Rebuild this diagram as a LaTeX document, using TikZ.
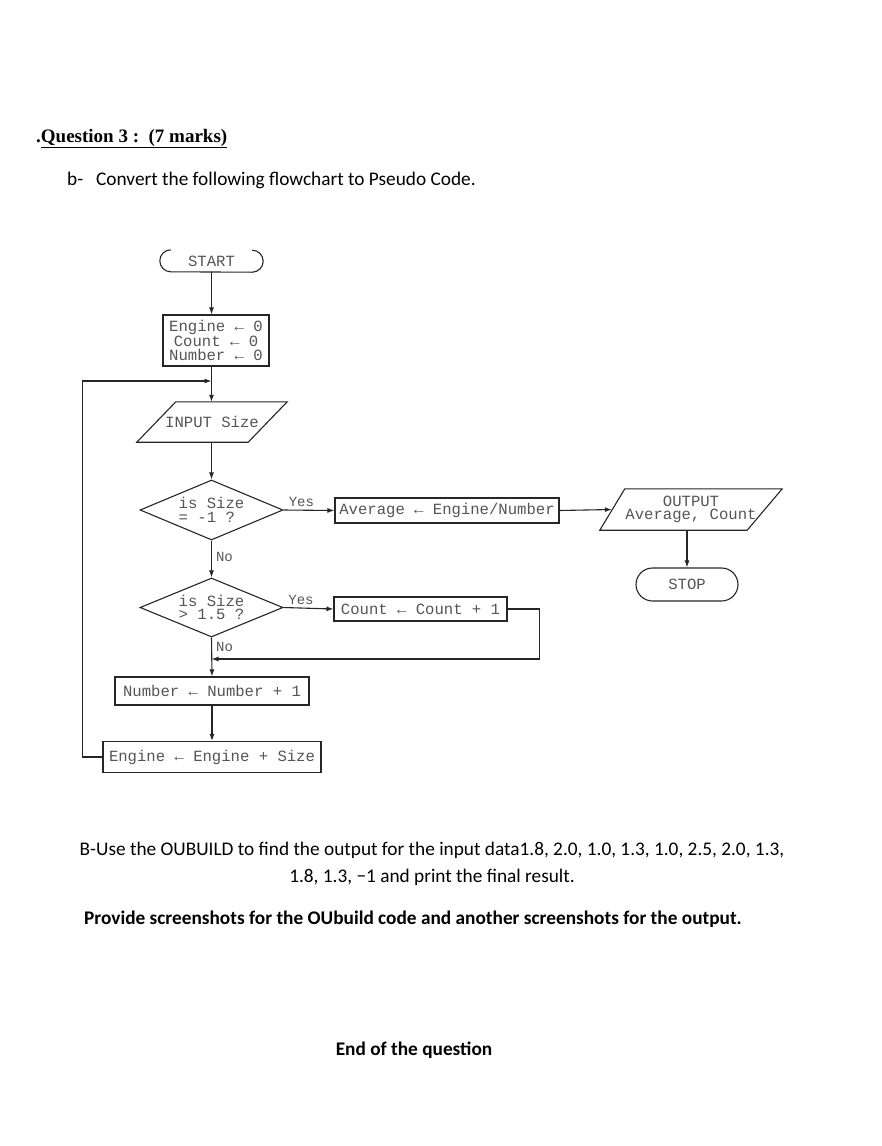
\documentclass[tikz,border=0pt]{standalone}
\usepackage{fontspec}
\setmainfont{Carlito}
\newfontfamily\timesfont{Liberation Serif}
\setmonofont{Liberation Mono}
\usetikzlibrary{shapes.geometric,shapes.misc,arrows.meta}
\definecolor{txt}{HTML}{555555}
\definecolor{ln}{HTML}{262626}
\begin{document}
\begin{tikzpicture}[x=1pt,y=-1pt,
  fc/.style={text=txt,font=\ttfamily\fontsize{15.6}{13.5}\selectfont,align=center,inner sep=0pt},
  box/.style={fc,draw=ln,line width=1.1pt},
  dia/.style={fc,draw=ln,line width=1.1pt,diamond,aspect=2.4,align=left},
  io/.style={draw=ln,line width=1.1pt},
  arr/.style={draw=ln,line width=1.1pt,-{Latex[length=7pt,width=5pt]}},
  lbl/.style={text=txt,font=\ttfamily\fontsize{14}{14}\selectfont,inner sep=1pt}]
\useasboundingbox (0,0) rectangle (881,1146);
\fill[white] (0,0) rectangle (881,1146);
\node (t1) [anchor=base west,inner sep=0pt] at (36,142) {\timesfont\bfseries\fontsize{19}{22}\selectfont .\underline{Question 3 :\ \ (7 marks)}};
\node (t2) [anchor=base west,inner sep=0pt] at (67,185) {\fontsize{19.3}{22}\selectfont b-};
\node (t3) [anchor=base west,inner sep=0pt] at (96,185) {\fontsize{19.3}{22}\selectfont Convert the following flowchart to Pseudo Code.};
\node (v0) [fc,minimum width=103pt,minimum height=22pt] at (211.5,261) {START};
\draw[ln,line width=1.1pt] ([xshift=11pt]v0.north west) arc (90:270:11pt) -- ([xshift=-11pt]v0.south east) arc (-90:90:11pt);
\node (v1) [box,minimum width=106pt,minimum height=51pt] at (216,340.5) {Engine ← 0\\Count ← 0\\Number ← 0};
\node (v2) [fc,minimum width=150pt,minimum height=40pt] at (212,422) {INPUT Size};
\draw[io] ([xshift=39pt]v2.north west) -- (v2.north east) -- ([xshift=-39pt]v2.south east) -- (v2.south west) -- cycle;
\node (v3) [dia,minimum width=143pt,minimum height=60pt] at (211.5,510) {is Size\\= -1 ?};
\node (v4) [box,minimum width=224pt,minimum height=25pt] at (447,510.5) {Average ← Engine/Number};
\node (v5) [fc,minimum width=182pt,minimum height=41pt] at (691,509.5) {OUTPUT\\Average, Count};
\draw[io] ([xshift=25pt]v5.north west) -- (v5.north east) -- ([xshift=-35pt]v5.south east) -- (v5.south west) -- cycle;
\node (v6) [box,rounded rectangle,minimum width=102pt,minimum height=33pt] at (687,584.5) {STOP};
\node (v7) [dia,minimum width=143pt,minimum height=59pt] at (211.5,607.5) {is Size\\> 1.5 ?};
\node (v8) [box,minimum width=173pt,minimum height=24pt] at (420.5,609) {Count ← Count + 1};
\node (v9) [box,minimum width=194pt,minimum height=28pt] at (212,691) {Number ← Number + 1};
\node (v10) [box,minimum width=218pt,minimum height=31pt] at (212,757) {Engine ← Engine + Size};
\coordinate (c1) at (211.5,381);
\coordinate (c2) at (211.5,659);
\draw[arr] (v0.south) -- (v0.south |- v1.north);
\draw[arr] (v1.south -| v0) -- (v2.north -| v0);
\draw[arr] (v10.west) -- ++(-20,0) |- (c1);
\draw[arr] (v2.south -| v3) -- (v3.north);
\draw[arr] (v3.east) -- node[lbl,pos=0.35,above=2pt] (y1) {Yes} (v4.west);
\draw[arr] (v4.east) -- ([xshift=12pt]v5.west);
\draw[arr] (v5.south -| v6) -- (v6.north);
\draw[arr] (v3.south) -- node[lbl,pos=0.45,right=3pt] (n1) {No} (v7.north);
\draw[arr] (v7.east) -- node[lbl,pos=0.35,above=2pt] (y2) {Yes} (v8.west);
\draw[arr] (v8.east) -- ++(32,0) |- (c2);
\draw[arr] (v7.south) -- node[lbl,pos=0.25,right=3pt] (n2) {No} (v9.north);
\draw[arr] (v9.south) -- (v10.north);
\node (t4) [anchor=base,inner sep=0pt] at (432,855) {\fontsize{19.3}{22}\selectfont B-Use the OUBUILD to find the output for the input data1.8, 2.0, 1.0, 1.3, 1.0, 2.5, 2.0, 1.3,};
\node (t5) [anchor=base,inner sep=0pt] at (432,882) {\fontsize{19.3}{22}\selectfont 1.8, 1.3, −1 and print the final result.};
\node (t6) [anchor=base,inner sep=0pt] at (413,924) {\fontsize{19.3}{22}\selectfont\bfseries Provide screenshots for the OUbuild code and another screenshots for the output.};
\node (t7) [anchor=base,inner sep=0pt] at (414,1055) {\fontsize{19.3}{22}\selectfont\bfseries End of the question};
\end{tikzpicture}
\end{document}
